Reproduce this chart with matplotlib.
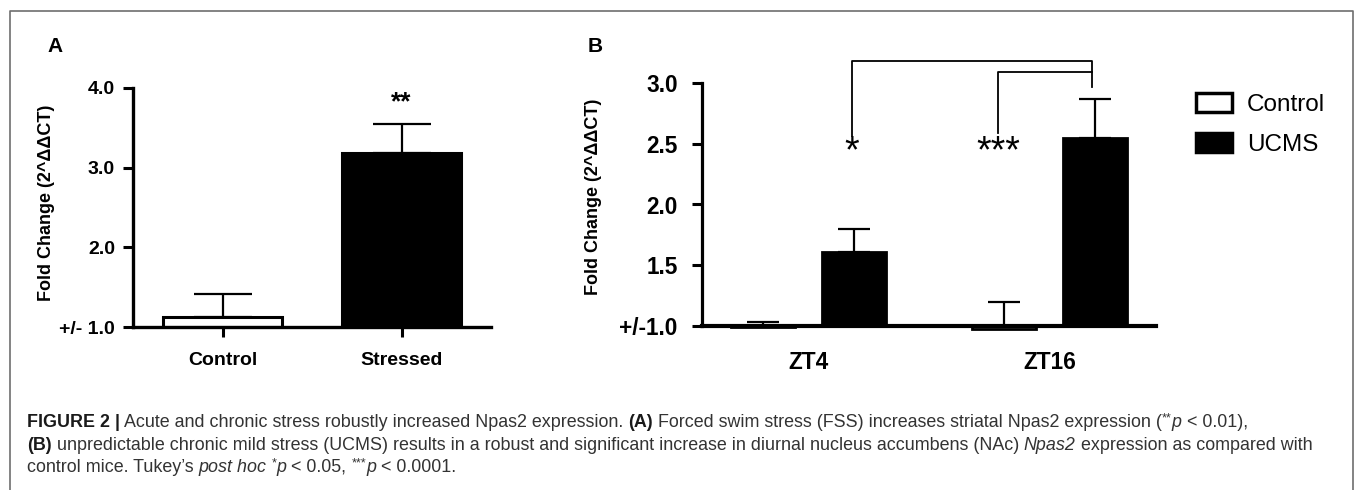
import numpy as np
import matplotlib

matplotlib.use("Agg")
import matplotlib.pyplot as plt
from matplotlib import font_manager
from matplotlib.lines import Line2D

# --- data --------------------------------------------------------------------
groups_a = ["Control", "Stressed"]
means_a = [1.13, 3.18]
err_a = [0.29, 0.37]
stars_a = ["", "**"]

timepoints = ["ZT4", "ZT16"]
control_b = [0.99, 0.975]
control_err = [0.04, 0.225]
ucms_b = [1.61, 2.55]
ucms_err = [0.19, 0.32]

yticks_a = [1.0, 2.0, 3.0, 4.0]
yticklabels_a = ["+/- 1.0", "2.0", "3.0", "4.0"]
yticks_b = [1.0, 1.5, 2.0, 2.5, 3.0]
yticklabels_b = ["+/-1.0", "1.5", "2.0", "2.5", "3.0"]
BASE = 1.0

ylabel = "Fold Change (2^ΔΔCT)"

caption = [
    [("FIGURE 2 |", "bold"), (" Acute and chronic stress robustly increased Npas2 expression. ", "normal"),
     ("(A)", "bold"), (" Forced swim stress (FSS) increases striatal Npas2 expression (", "normal"),
     ("**", "sup"), ("p", "italic"), (" < 0.01),", "normal")],
    [("(B)", "bold"), (" unpredictable chronic mild stress (UCMS) results in a robust and significant increase "
                       "in diurnal nucleus accumbens (NAc) ", "normal"),
     ("Npas2", "italic"), (" expression as compared with", "normal")],
    [("control mice. Tukey’s ", "normal"), ("post hoc", "italic"), (" ", "normal"), ("*", "sup"),
     ("p", "italic"), (" < 0.05, ", "normal"), ("***", "sup"), ("p", "italic"), (" < 0.0001.", "normal")],
]

W, H = 1355, 490
SANS = "Liberation Sans"
names = {f.name for f in font_manager.fontManager.ttflist}
NARROW = "Liberation Sans Narrow" if "Liberation Sans Narrow" in names else SANS
nscale = 1.0 if NARROW != SANS else 0.86   # plain Arial-alike is wider than Arial Narrow

fig = plt.figure(figsize=(W / 100, H / 100), dpi=100)


def px_rect(x0, y0, x1, y1):
    """axes rect from pixel box (top-left origin)."""
    return [x0 / W, 1 - y1 / H, (x1 - x0) / W, (y1 - y0) / H]


# --- panel A -----------------------------------------------------------------
axa = fig.add_axes(px_rect(133, 88, 491, 327))
xa = np.arange(len(groups_a))
axa.bar(xa, np.array(means_a) - BASE, bottom=BASE, width=0.67,
        color=["white", "black"], edgecolor="black", linewidth=2.2, zorder=2)
axa.errorbar(xa, means_a, yerr=[np.zeros(len(err_a)), err_a], fmt="none",
             ecolor="black", elinewidth=1.6, capsize=21, capthick=1.6, zorder=1)
for x, m, e, s in zip(xa, means_a, err_a, stars_a):
    if s:
        axa.text(x, 3.82, s, ha="center", va="center", fontsize=19,
                 fontweight="bold", family=SANS)
axa.set_xlim(-0.5, 1.5)
axa.set_ylim(1.0, 4.0)
axa.set_yticks(yticks_a, yticklabels_a)
axa.set_xticks(xa, groups_a)
for sp in ("top", "right"):
    axa.spines[sp].set_visible(False)
for sp in ("left", "bottom"):
    axa.spines[sp].set_linewidth(2.4)
axa.tick_params(axis="y", length=7, width=2.2, pad=6)
axa.tick_params(axis="x", length=7, width=2.2, pad=11)
for lab in axa.get_yticklabels() + axa.get_xticklabels():
    lab.set_fontsize(14)
    lab.set_fontweight("bold")
    lab.set_family(SANS)

# --- panel B -----------------------------------------------------------------
axb = fig.add_axes(px_rect(702, 83, 1156, 326))
xb = np.arange(len(timepoints))
off, bw = 0.188, 0.264
axb.bar(xb - off, np.array(control_b) - BASE, bottom=BASE, width=bw, color="white",
        edgecolor="black", linewidth=2.0, clip_on=False, zorder=2, label="Control")
axb.bar(xb + off, np.array(ucms_b) - BASE, bottom=BASE, width=bw, color="black",
        edgecolor="black", linewidth=2.0, clip_on=False, zorder=2, label="UCMS")
axb.errorbar(xb - off, control_b, yerr=[np.zeros(2), control_err], fmt="none",
             ecolor="black", elinewidth=1.6, capsize=11.5, capthick=1.6, zorder=1)
axb.errorbar(xb + off, ucms_b, yerr=[np.zeros(2), ucms_err], fmt="none",
             ecolor="black", elinewidth=1.6, capsize=11.5, capthick=1.6, zorder=1)

# significance brackets
x_l, x_m, x_r = xb[0] + 0.18, xb[1] - 0.215, xb[1] + 0.176
axb.plot([x_l, x_l, x_r, x_r], [2.56, 3.18, 3.18, 2.97], color="black", lw=1.3, clip_on=False)
axb.plot([x_m, x_m, x_r], [2.59, 3.09, 3.09], color="black", lw=1.3, clip_on=False)
axb.text(x_l, 2.43, "*", ha="center", va="center", fontsize=27, family=SANS)
axb.text(x_m, 2.43, "***", ha="center", va="center", fontsize=27, family=SANS)

axb.set_xlim(-0.44, 1.44)
axb.set_ylim(1.0, 3.0)
axb.set_yticks(yticks_b, yticklabels_b)
axb.set_xticks(xb, timepoints)
for sp in ("top", "right"):
    axb.spines[sp].set_visible(False)
axb.spines["left"].set_linewidth(2.3)
axb.spines["bottom"].set_linewidth(3.0)
axb.tick_params(axis="y", length=7.5, width=2.2, pad=10)
axb.tick_params(axis="x", length=0, pad=18)
for lab in axb.get_yticklabels() + axb.get_xticklabels():
    lab.set_fontsize(19 * nscale)
    lab.set_fontweight("bold")
    lab.set_family(NARROW)

leg_size = 20 * nscale + 0.3
fpx = leg_size * 100 / 72
leg = axb.legend(loc="upper left", bbox_to_anchor=(1196 / W, 1 - 93 / H),
                 bbox_transform=fig.transFigure, frameon=False, borderpad=0,
                 borderaxespad=0, handlelength=36 / fpx, handleheight=20 / fpx,
                 handletextpad=15 / fpx, labelspacing=17 / fpx,
                 prop={"family": NARROW, "size": leg_size})
for h in leg.legend_handles:
    h.set_linewidth(2.5)

# axis titles and panel letters
for xc, yc in ((47, 203), (593, 197)):
    fig.text(xc / W, 1 - yc / H, ylabel, rotation=90, ha="center", va="center",
             fontsize=13, fontweight="bold", family=SANS)
fig.text(55 / W, 1 - 47 / H, "A", ha="center", va="center", fontsize=15,
         fontweight="bold", family=SANS)
fig.text(595 / W, 1 - 47 / H, "B", ha="center", va="center", fontsize=15,
         fontweight="bold", family=SANS)

# outer frame (open at the bottom)
frame = dict(color="#6e6e6e", lw=1.2, transform=fig.transFigure)
fig.add_artist(Line2D([10 / W, 10 / W, 1353 / W, 1353 / W], [0, 1 - 11 / H, 1 - 11 / H, 0], **frame))

# caption, drawn run by run
renderer = fig.canvas.get_renderer()


def run_width(s, **kw):
    t1 = fig.text(0, 0, s + "x", **kw)
    t2 = fig.text(0, 0, "x", **kw)
    w = t1.get_window_extent(renderer).width - t2.get_window_extent(renderer).width
    t1.remove()
    t2.remove()
    return w


cap_size = 12.9
for line, yc in zip(caption, (422, 445, 467)):
    x = 27.0
    for s, style in line:
        sup = style == "sup"
        kw = dict(fontsize=cap_size * (0.7 if sup else 1.0), family=SANS,
                  fontweight="bold" if style == "bold" else "normal",
                  fontstyle="italic" if style == "italic" else "normal",
                  color="#1a1a1a" if style == "bold" else "#333333")
        fig.text(x / W, 1 - (yc - (4 if sup else 0)) / H, s, va="center", ha="left", **kw)
        x += run_width(s, **kw)

fig.savefig("out.png", dpi=100)
